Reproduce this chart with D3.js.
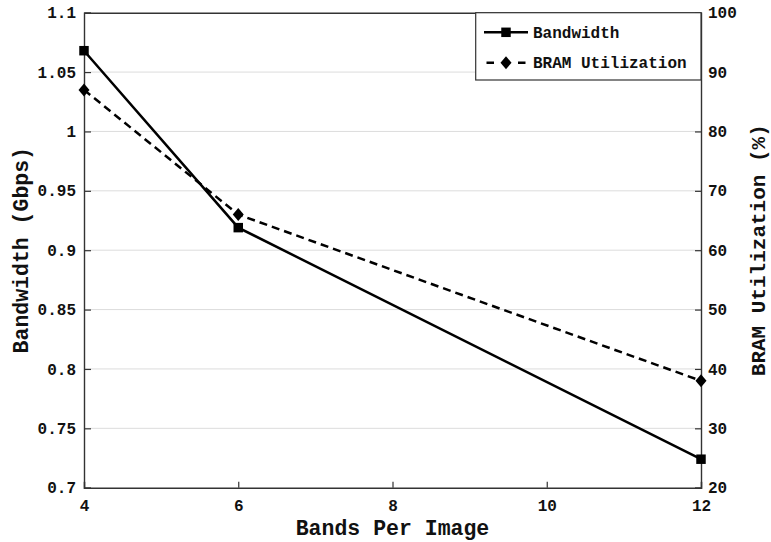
<!DOCTYPE html>
<html lang="en">
<head>
    <meta charset="UTF-8">
    <title>Bandwidth and BRAM Utilization</title>
    <script src="https://d3js.org/d3.v7.min.js"></script>
    <style>
        body { margin: 0; background: #fff; }
        text { font-family: "Liberation Mono", "Courier New", monospace; font-weight: bold; fill: #111; }
    </style>
</head>
<body>
    <svg id="chart"></svg>

    <script>
        const width = 771;
        const height = 542;

        // data
        const bands = [4, 6, 12];
        const bandwidth = [1.068, 0.919, 0.724];
        const bramUtil = [87, 66, 38];

        const xTicks = [4, 6, 8, 10, 12];
        const leftTicks = [0.7, 0.75, 0.8, 0.85, 0.9, 0.95, 1, 1.05, 1.1];
        const rightTicks = [20, 30, 40, 50, 60, 70, 80, 90, 100];

        const margin = { top: 12.7, right: 70, bottom: 54.3, left: 84 };
        const plotW = width - margin.left - margin.right;
        const plotH = height - margin.top - margin.bottom;

        const svg = d3.select("#chart")
            .attr("width", width)
            .attr("height", height);

        const g = svg.append("g")
            .attr("transform", `translate(${margin.left},${margin.top})`);

        const x = d3.scaleLinear().domain([4, 12]).range([0, plotW]);
        const yL = d3.scaleLinear().domain([0.7, 1.1]).range([plotH, 0]);
        const yR = d3.scaleLinear().domain([20, 100]).range([plotH, 0]);

        // horizontal grid
        g.append("g")
            .selectAll("line")
            .data(leftTicks.slice(1, -1))
            .enter()
            .append("line")
            .attr("x1", 0)
            .attr("x2", plotW)
            .attr("y1", d => yL(d))
            .attr("y2", d => yL(d))
            .attr("stroke", "#dcdcdc")
            .attr("stroke-width", 1);

        // axes
        const fmtL = d => d3.format("")(+d.toFixed(2));
        const xAxis = g.append("g")
            .attr("transform", `translate(0,${plotH})`)
            .call(d3.axisBottom(x).tickValues(xTicks).tickSize(-6).tickPadding(12).tickFormat(d3.format("d")));
        const xTop = g.append("g")
            .call(d3.axisTop(x).tickValues([]).tickSize(0));
        const leftAxis = g.append("g")
            .call(d3.axisLeft(yL).tickValues(leftTicks).tickSize(-7).tickPadding(8).tickFormat(fmtL));
        const rightAxis = g.append("g")
            .attr("transform", `translate(${plotW},0)`)
            .call(d3.axisRight(yR).tickValues(rightTicks).tickSize(-6).tickPadding(7).tickFormat(d3.format("d")));

        [xAxis, xTop, leftAxis, rightAxis].forEach(a => {
            a.select(".domain").attr("stroke", "#333").attr("stroke-width", 1.4);
            a.selectAll(".tick line").attr("stroke", "#333").attr("stroke-width", 1.2);
            a.selectAll(".tick text")
                .style("font-size", "16px")
                .style("font-family", "'Liberation Mono', 'Courier New', monospace")
                .style("font-weight", "bold")
                .attr("fill", "#111");
        });

        // series lines
        const bwPts = bands.map((b, i) => [x(b), yL(bandwidth[i])]);
        const brPts = bands.map((b, i) => [x(b), yR(bramUtil[i])]);

        g.append("path")
            .attr("d", d3.line()(brPts))
            .attr("fill", "none")
            .attr("stroke", "#000")
            .attr("stroke-width", 2.5)
            .attr("stroke-dasharray", "8,5");

        g.append("path")
            .attr("d", d3.line()(bwPts))
            .attr("fill", "none")
            .attr("stroke", "#000")
            .attr("stroke-width", 2.5);

        const square = d3.symbol().type(d3.symbolSquare).size(90);
        const diamond = "M0,-6.5L5.5,0L0,6.5L-5.5,0Z";

        g.append("g")
            .selectAll("path")
            .data(bwPts)
            .enter()
            .append("path")
            .attr("d", square)
            .attr("transform", d => `translate(${d[0]},${d[1]})`)
            .attr("fill", "#000");

        g.append("g")
            .selectAll("path")
            .data(brPts)
            .enter()
            .append("path")
            .attr("d", diamond)
            .attr("transform", d => `translate(${d[0]},${d[1]})`)
            .attr("fill", "#000");

        // axis titles
        svg.append("text")
            .attr("x", margin.left + plotW / 2)
            .attr("y", 535)
            .attr("text-anchor", "middle")
            .style("font-size", "21.5px")
            .text("Bands Per Image");

        svg.append("text")
            .attr("transform", `translate(28,${margin.top + plotH / 2}) rotate(-90)`)
            .attr("text-anchor", "middle")
            .style("font-size", "21.5px")
            .text("Bandwidth (Gbps)");

        svg.append("text")
            .attr("transform", `translate(765,${margin.top + plotH / 2}) rotate(-90)`)
            .attr("text-anchor", "middle")
            .style("font-size", "21px")
            .text("BRAM Utilization (%)");

        // legend
        const legX = 475.7, legY = margin.top, legW = width - margin.right - legX, legH = 67.3;
        const leg = svg.append("g");
        leg.append("rect")
            .attr("x", legX)
            .attr("y", legY)
            .attr("width", legW)
            .attr("height", legH)
            .attr("fill", "#fff")
            .attr("stroke", "#333")
            .attr("stroke-width", 1.2);

        const rows = [
            { name: "Bandwidth", y: 32.3, dash: null, marker: square },
            { name: "BRAM Utilization", y: 62.7, dash: "7.5,24", marker: diamond }
        ];
        rows.forEach(r => {
            leg.append("line")
                .attr("x1", 484)
                .attr("x2", 528)
                .attr("y1", r.y)
                .attr("y2", r.y)
                .attr("stroke", "#000")
                .attr("stroke-width", 2.5)
                .attr("stroke-dasharray", r.dash)
                .attr("stroke-dashoffset", r.dash ? -2.5 : null);
            leg.append("path")
                .attr("d", r.marker)
                .attr("transform", `translate(506,${r.y})`)
                .attr("fill", "#000");
            leg.append("text")
                .attr("x", 533)
                .attr("y", r.y)
                .attr("dy", "0.35em")
                .style("font-size", "16px")
                .text(r.name);
        });
    </script>
</body>
</html>
